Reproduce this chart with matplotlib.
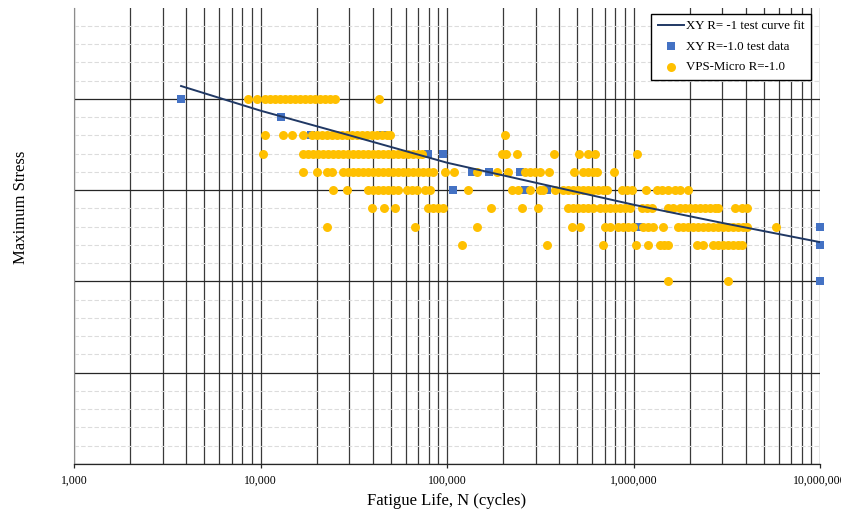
import matplotlib
matplotlib.use("Agg")
import matplotlib.pyplot as plt
from matplotlib.ticker import FixedLocator, FuncFormatter, LogLocator, NullFormatter

plt.rcParams['font.family'] = ['Liberation Serif', 'DejaVu Serif']

# XY R=-1 test curve fit
fit_life = [3750, 10000, 30000, 100000, 300000, 1000000, 3000000, 10000000]
fit_stress = [414, 387, 360, 330, 308, 284, 264, 243]

# XY R=-1.0 test data
xy_life = [3750, 12900, 18700, 45400, 79000, 95300, 136000, 168000, 246000,
           107600, 262000, 343000, 1069000, 10000000, 10000000, 10000000]
xy_stress = [400, 380, 360, 360, 340, 340, 320, 320, 320,
             300, 300, 300, 260, 260, 240, 200]

# VPS-Micro R=-1.0, one list of lives per stress level
vps_400 = [8600, 9600, 10600, 11300, 12000, 12700, 13500, 14400, 15300, 16300,
           17300, 18400, 19600, 20800, 22200, 23600, 25100, 43200]
vps_360 = [10600, 13200, 14800, 16900, 18900, 20100, 21400, 22700, 24200, 25700,
           27400, 29100, 31000, 32900, 35000, 37300, 39700, 42200, 44900, 47700,
           49400, 204000]
vps_340 = [10300, 16900, 18000, 19100, 20300, 21600, 23000, 24500, 26000, 27700,
           29500, 31300, 33300, 35500, 37700, 40100, 42700, 45400, 48300, 51400,
           54600, 58100, 61800, 65800, 70000, 73400, 197000, 207000, 237000,
           374000, 509000, 569000, 621000, 1042000]
vps_320 = [16900, 20100, 22700, 24200, 27700, 29500, 31300, 33300, 35500, 37700,
           40100, 42700, 45400, 48300, 51400, 54600, 58100, 61800, 65800, 70000,
           74300, 79100, 84100, 97500, 108900, 144700, 185200, 212100, 261700,
           278300, 296000, 314800, 351800, 478900, 535200, 569200, 605400, 636000,
           784400]
vps_300 = [24500, 29100, 37700, 40100, 42700, 45400, 48300, 51400, 54600, 61000,
           64900, 69000, 76200, 81000, 129500, 222800, 240000, 278300, 314800,
           326700, 378800, 418100, 444700, 473000, 503300, 535200, 569200, 605400,
           643900, 685000, 719400, 865700, 920700, 979400, 1164000, 1334000,
           1418000, 1528000, 1665000, 1771000, 1955000]
vps_280 = [39700, 45900, 52600, 79100, 84100, 89400, 95100, 172000, 252100,
           307100, 444700, 473000, 503300, 535200, 569200, 605400, 660000, 702000,
           746600, 794000, 844600, 898400, 955500, 1108000, 1178000, 1253000,
           1528000, 1624000, 1771000, 1884000, 2004000, 2131000, 2267000, 2411000,
           2564000, 2728000, 2829000, 3491000, 3807000, 4048000]
vps_260 = [22700, 67400, 144700, 467200, 515700, 702000, 746600, 824000, 876500,
           932200, 991600, 1121000, 1193000, 1268000, 1435000, 1727000, 1838000,
           1955000, 2080000, 2212000, 2353000, 2502000, 2661000, 2829000, 3011000,
           3202000, 3406000, 3623000, 3853000, 4048000, 5789000]
vps_240 = [120200, 343200, 685000, 1029000, 1193000, 1384000, 1453000, 1528000,
           2185000, 2353000, 2661000, 2829000, 3011000, 3202000, 3406000, 3623000,
           3805000]
vps_200 = [1528000, 3202000]

vps_rows = {400: vps_400, 360: vps_360, 340: vps_340, 320: vps_320, 300: vps_300,
            280: vps_280, 260: vps_260, 240: vps_240, 200: vps_200}
vps_life = []
vps_stress = []
for s, lives in vps_rows.items():
    vps_life += lives
    vps_stress += [s] * len(lives)

fig = plt.figure(figsize=(8.41, 5.15), dpi=100)
ax = fig.add_axes([74 / 841, 51 / 515, 746 / 841, 456.5 / 515])

ax.set_xscale('log')
ax.set_xlim(1000, 10000000)
ax.set_ylim(0, 500)

ax.xaxis.set_major_locator(LogLocator(base=10, numticks=10))
ax.xaxis.set_minor_locator(LogLocator(base=10, subs=range(2, 10), numticks=100))
ax.xaxis.set_major_formatter(FuncFormatter(lambda v, p: f"{int(round(v)):,}"))
ax.xaxis.set_minor_formatter(NullFormatter())
ax.yaxis.set_major_locator(FixedLocator([0, 100, 200, 300, 400]))
ax.yaxis.set_minor_locator(FixedLocator([v for v in range(20, 500, 20) if v % 100]))
ax.set_yticklabels([])

ax.grid(which='major', axis='x', color='#3a3a3a', lw=0.9)
ax.grid(which='minor', axis='x', color='#3a3a3a', lw=0.9)
ax.grid(which='major', axis='y', color='#262626', lw=0.9)
ax.grid(which='minor', axis='y', color='#dcdcdc', lw=0.8, ls=(0, (4, 2)))
ax.set_axisbelow(True)

ax.tick_params(axis='x', which='major', direction='out', length=3, width=0.9,
               labelsize=8.5, pad=4.4, color='#262626')
ax.tick_params(axis='x', which='minor', length=0)
ax.tick_params(axis='y', which='both', length=0)

for side in ['top', 'right']:
    ax.spines[side].set_visible(False)
ax.spines['left'].set_color('#8c8c8c')
ax.spines['bottom'].set_color('#262626')
ax.spines['bottom'].set_linewidth(0.9)

ax.scatter(xy_life, xy_stress, marker='s', s=38, color='#4472C4', lw=0,
           zorder=3, clip_on=False, label='XY R=-1.0 test data')
ax.scatter(vps_life, vps_stress, marker='o', s=42, color='#FFC000', lw=0,
           zorder=4, label='VPS-Micro R=-1.0')
ax.plot(fit_life, fit_stress, color='#203864', lw=1.4, zorder=5,
        label='XY R= -1 test curve fit')

handles, labels = ax.get_legend_handles_labels()
order = [2, 0, 1]
leg = ax.legend([handles[i] for i in order], [labels[i] for i in order],
                loc='upper right', bbox_to_anchor=(0.988, 0.986), borderaxespad=0,
                fontsize=9.3, fancybox=False, framealpha=1, edgecolor='black',
                handlelength=2.0, handletextpad=0.2, borderpad=0.5,
                labelspacing=0.65)
leg.get_frame().set_linewidth(1.0)

ax.set_xlabel('Fatigue Life, N (cycles)', fontsize=12, labelpad=5)
fig.text(21 / 841, 1 - 207 / 515, 'Maximum Stress', rotation=90, fontsize=12,
         ha='center', va='center')

plt.savefig('out.png', dpi=100)
